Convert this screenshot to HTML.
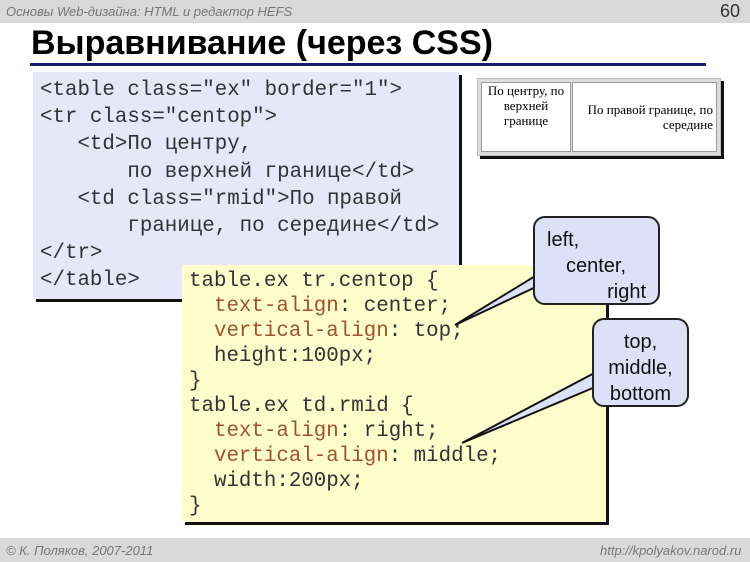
<!DOCTYPE html>
<html><head><meta charset="utf-8"><style>
body{margin:0;width:750px;height:562px;background:#fff;position:relative;overflow:hidden;font-family:"Liberation Sans",sans-serif}
.a{position:absolute}
.hdr{left:0;top:0;width:750px;height:23px;background:#d9d9d9}
.ftr{left:0;top:538px;width:750px;height:24px;background:#d9d9d9}
.mono{font-family:"Liberation Mono",monospace;font-size:20.8px;color:#333;white-space:pre}
.p{color:#a0522d}
.box{box-shadow:3px 3px 0 #111;}
.cl{background:#dde1f7;border:2px solid #222;border-radius:12px;font-size:20px;color:#111;line-height:26px}
</style></head><body>
<div class="a hdr"></div>
<div class="a" style="left:6px;top:4px;font-size:13px;font-style:italic;color:#777">Основы Web-дизайна: HTML и редактор HEFS</div>
<div class="a" style="left:720px;top:1px;font-size:18px;color:#333">60</div>
<div class="a" style="left:31px;top:24px;font-size:34px;font-weight:bold;color:#000">Выравнивание (через CSS)</div>
<div class="a" style="left:30px;top:63px;width:676px;height:3px;background:#1a1a6e"></div>

<div class="a box" style="left:33px;top:72px;width:426px;height:227px;background:#e6e8fa"></div>
<div class="a mono" style="left:40px;top:77px;line-height:27.2px">&lt;table class="ex" border="1"&gt;
&lt;tr class="centop"&gt;
   &lt;td&gt;По центру,
       по верхней границе&lt;/td&gt;
   &lt;td class="rmid"&gt;По правой
       границе, по середине&lt;/td&gt;
&lt;/tr&gt;
&lt;/table&gt;</div>

<div class="a" style="left:477px;top:78px;width:242px;height:76px;background:#ddd;border:1px solid #bbb;box-shadow:3px 3px 0 #111"></div>
<div class="a" style="left:481px;top:82px;width:88px;height:68px;background:#fff;border:1px solid #999;font-family:'Liberation Serif',serif;font-size:13px;text-align:center;line-height:15px">По центру, по верхней границе</div>
<div class="a" style="left:572px;top:82px;width:143px;height:68px;background:#fff;border:1px solid #999;font-family:'Liberation Serif',serif;font-size:13px;text-align:right;line-height:15px;display:flex;align-items:center;justify-content:flex-end"><span style="padding-right:3px">По правой границе, по середине</span></div>

<div class="a box" style="left:182px;top:265px;width:424px;height:257px;background:#fefecd"></div>
<div class="a mono" style="left:189px;top:269px;line-height:25px">table.ex tr.centop {
  <span class="p">text-align</span>: center;
  <span class="p">vertical-align</span>: top;
  height:100px;
}
table.ex td.rmid {
  <span class="p">text-align</span>: right;
  <span class="p">vertical-align</span>: middle;
  width:200px;
}</div>

<svg class="a" style="left:0;top:0" width="750" height="562">
<polygon points="540,285 455,325 545,270" fill="#dde1f7" stroke="#111" stroke-width="2"/>
<polygon points="600,385 462,443 600,370" fill="#dde1f7" stroke="#111" stroke-width="2"/>
</svg>
<div class="a cl" style="left:533px;top:216px;width:127px;height:89px;box-sizing:border-box;padding:9px 12px 0 12px">left,<br><span style="padding-left:19px">center,</span><br><div style="text-align:right">right</div></div>
<div class="a cl" style="left:592px;top:318px;width:97px;height:89px;box-sizing:border-box;padding-top:9px;text-align:center">top,<br>middle,<br>bottom</div>

<div class="a ftr"></div>
<div class="a" style="left:6px;top:543px;font-size:13px;font-style:italic;color:#777">© К. Поляков, 2007-2011</div>
<div class="a" style="left:600px;top:543px;font-size:13px;font-style:italic;color:#777">http://kpolyakov.narod.ru</div>
</body></html>
